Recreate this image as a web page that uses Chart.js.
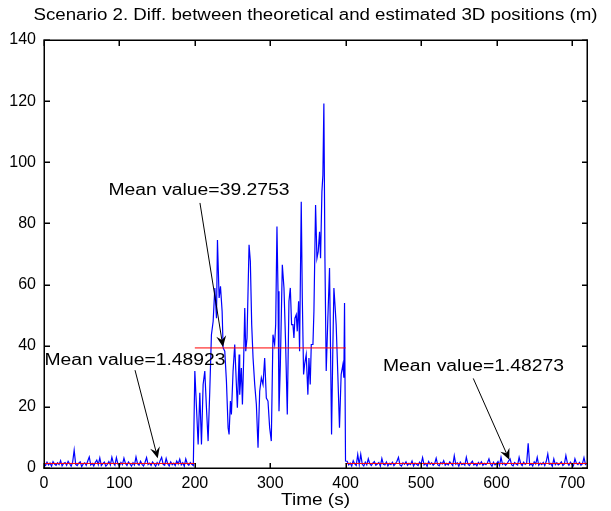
<!DOCTYPE html>
<html>
<head>
<meta charset="utf-8">
<script src="https://cdn.jsdelivr.net/npm/chart.js@4"></script>
</head>
<body style="margin:0">
<canvas id="chart" width="611" height="511"></canvas>
<script>
// Data
const titleText = 'Scenario 2. Diff. between theoretical and estimated 3D positions (m)';
const xTitle = 'Time (s)';
const xTicks = [0, 100, 200, 300, 400, 500, 600, 700];
const yTicks = [0, 20, 40, 60, 80, 100, 120, 140];

// 0-198 s, one sample every 2 s
const sampleStep = 2;
const leftStart = 0;
const leftValues = [
  1.2, 0.8, 1.9, 1.0, 1.6, 0.6, 2.1, 1.3, 0.9, 1.7,
  1.1, 2.4, 0.7, 1.5, 1.8, 0.9, 2.2, 1.4, 0.6, 1.9,
  5.8, 1.2, 0.8, 1.6, 2.0, 0.5, 1.3, 1.7, 0.9, 2.3,
  3.6, 1.0, 1.5, 0.7, 1.8, 2.6, 1.1, 3.3, 0.8, 1.4,
  1.9, 0.6, 1.2, 2.1, 1.0, 3.5, 1.6, 0.9, 3.4, 1.3,
  0.7, 1.8, 1.1, 3.2, 1.5, 0.8, 2.0, 1.3, 0.6, 1.7,
  1.0, 3.6, 1.4, 0.9, 2.2, 1.2, 0.7, 1.9, 3.4, 1.1,
  1.6, 0.8, 2.0, 1.3, 0.6, 1.8, 1.0, 2.4, 3.5, 1.2,
  0.9, 3.1, 1.4, 0.7, 2.0, 1.1, 1.6, 0.8, 2.3, 1.3,
  2.9, 1.0, 1.7, 0.6, 3.0, 1.4, 0.9, 1.8, 1.2, 0.8
];

// 200-400 s, the noisy middle part
const midTimes = [
  200, 204.4, 206.6, 208.8, 211, 213.2, 215.4, 217.6, 219.8, 222,
  224.3, 226.5, 228.7, 230, 232.2, 234, 236.2, 237.5, 239.7, 241.9,
  244.1, 245.4, 247.2, 248.5, 250.7, 252.9, 255.1, 256.4, 258.7, 259.5,
  261.7, 263.1, 264.8, 266.2, 267.5, 269.2, 271.9, 273.6, 275.4, 277.2,
  279.4, 281.6, 283.8, 286, 288.2, 290.4, 292.6, 294.8, 297, 299.2,
  301.4, 303.6, 305.8, 307.2, 308.9, 310.3, 311.6, 313.4, 316, 318.2,
  320.4, 322.6, 324.8, 326.6, 328.3, 330.1, 331.4, 332.7, 334.5, 335.8,
  337.6, 338.9, 341.1, 342.5, 344.2, 345.5, 347.7, 349.9, 351.3, 353,
  354.4, 356.6, 357.9, 360.1, 361.9, 363.6, 365.4, 366.7, 368.5, 369.8,
  371.1, 372.5, 374.2, 376.4, 378.6, 381.3, 383, 384.4, 386.1, 387.4,
  389.6, 391.8, 394, 396.3, 397.6, 398.5, 399.8
];
const midValues = [
  31.7, 7.7, 24.6, 7.7, 27.3, 31.7, 19.7, 8.8, 25.1, 43.6,
  48, 58.9, 49, 74.6, 55.6, 59.4, 51.2, 39.3, 38.2, 28.4,
  13.2, 11, 21.9, 17.5, 31.7, 40.4, 27.3, 19.7, 37.1, 24,
  32.7, 20.8, 36, 52.3, 38.2, 42.5, 73, 67.6, 46.9, 36,
  27.3, 20.8, 6.6, 25.1, 29.5, 27.3, 36, 22.9, 21.9, 13.2,
  8.8, 43.6, 40.4, 46.9, 79, 57.8, 18.6, 33.8, 66.5, 58.9,
  40.4, 17.5, 54.5, 58.9, 46.9, 46.9, 42.5, 49, 50.2, 44.7,
  54.5, 38.2, 87.1, 55.6, 30.6, 33.8, 37.1, 24, 36, 27.3,
  40.4, 40.4, 51.2, 86, 68.6, 70.8, 77.3, 68.6, 90.4, 95.8,
  119.2, 68.6, 31.7, 49, 65.4, 11, 39.3, 58.9, 52.3, 46.9,
  30.6, 13.2, 30.6, 33.8, 29.5, 54, 2.3
];

// 402-720 s, one sample every 2 s
const rightStart = 402;
const rightValues = [
  2.2, 1.0, 1.6, 0.6, 2.4, 1.3, 0.8, 4.4, 1.1, 4.5,
  1.2, 0.7, 1.9, 1.0, 3.0, 1.4, 0.8, 1.6, 2.1, 0.9,
  1.3, 1.8, 0.6, 3.1, 1.2, 1.0, 2.0, 0.7, 1.5, 1.1,
  1.9, 0.8, 1.4, 2.2, 3.5, 1.0, 0.6, 1.7, 1.2, 2.0,
  0.9, 1.5, 1.1, 2.3, 0.7, 1.6, 1.2, 0.8, 1.9, 1.3,
  3.4, 1.0, 1.5, 0.6, 2.1, 1.2, 1.7, 0.9, 1.4, 3.2,
  1.1, 0.7, 1.8, 1.3, 2.4, 0.9, 1.5, 1.0, 2.0, 1.4,
  0.8, 4.0, 1.2, 1.7, 0.6, 1.9, 1.1, 1.5, 0.9, 3.5,
  1.3, 0.8, 1.6, 2.2, 1.0, 1.4, 0.7, 1.8, 1.2, 2.0,
  0.9, 1.5, 1.1, 1.7, 3.0, 1.3, 0.6, 1.9, 1.0, 1.4,
  2.1, 0.8, 3.5, 1.2, 1.6, 0.9, 1.4, 2.3, 3.0, 1.1,
  0.7, 1.8, 1.3, 1.0, 3.5, 1.5, 0.8, 1.9, 1.2, 1.6,
  8.1, 1.0, 1.4, 0.7, 2.0, 1.3, 3.5, 0.9, 1.6, 1.1,
  1.8, 0.8, 2.2, 4.6, 1.2, 1.5, 0.6, 3.0, 1.1, 1.7,
  1.0, 1.4, 2.0, 0.8, 1.3, 4.1, 1.6, 0.9, 1.9, 1.2,
  0.7, 3.0, 1.5, 1.1, 1.8, 0.9, 1.4, 3.4, 1.2, 1.6
];

// mean of each phase
const phaseStarts = [0, 200, 400];
const phaseEnds = [200, 400, 720];
const phaseMeans = [1.48923, 39.2753, 1.48273];

// annotations: label text, label centre, arrow tail and arrow tip (data units)
const noteTexts = ['Mean value=1.48923', 'Mean value=39.2753', 'Mean value=1.48273'];
const noteTextAt = [[120.7, 35.2], [205.5, 90.6], [569.5, 33.3]];
const noteTail = [[120.7, 32.0], [206.8, 86.7], [569.2, 29.3]];
const noteTip = [[150.8, 3.2], [237.3, 39.6], [617, 2.7]];

// build the position series
const positions = [];
leftValues.forEach((v, i) => positions.push({ x: leftStart + i * sampleStep, y: v }));
midTimes.forEach((t, i) => positions.push({ x: t, y: midValues[i] }));
rightValues.forEach((v, i) => positions.push({ x: rightStart + i * sampleStep, y: v }));

const meanSets = phaseMeans.map((m, i) => ({
  data: [{ x: phaseStarts[i], y: m }, { x: phaseEnds[i], y: m }],
  borderColor: '#ff0000',
  borderWidth: 1,
  pointRadius: 0,
  order: 0
}));

const FONT = "'Liberation Sans', Arial, sans-serif";

// draw text squeezed/stretched to a given width
function fitText(ctx, text, cx, cy, w, size) {
  ctx.save();
  ctx.font = size + 'px ' + FONT;
  const m = ctx.measureText(text).width;
  ctx.translate(cx, cy);
  ctx.scale(w / m, 1);
  ctx.textAlign = 'center';
  ctx.textBaseline = 'middle';
  ctx.fillStyle = '#000000';
  ctx.fillText(text, 0, 0);
  ctx.restore();
}

function arrow(ctx, ax, ay, bx, by) {
  const a = Math.atan2(by - ay, bx - ax);
  const len = 11, half = 5, notch = 7;
  const hx = bx - len * Math.cos(a), hy = by - len * Math.sin(a);
  const nx = bx - notch * Math.cos(a), ny = by - notch * Math.sin(a);
  const ox = -Math.sin(a) * half, oy = Math.cos(a) * half;
  ctx.save();
  ctx.strokeStyle = '#000000';
  ctx.fillStyle = '#000000';
  ctx.lineWidth = 1;
  ctx.beginPath();
  ctx.moveTo(ax, ay);
  ctx.lineTo(nx, ny);
  ctx.stroke();
  ctx.beginPath();
  ctx.moveTo(bx, by);
  ctx.lineTo(hx + ox, hy + oy);
  ctx.lineTo(nx, ny);
  ctx.lineTo(hx - ox, hy - oy);
  ctx.closePath();
  ctx.fill();
  ctx.restore();
}

// box, inward ticks, notes and titles
const framePlugin = {
  id: 'frame',
  afterDraw(chart) {
    const ctx = chart.ctx;
    const xs = chart.scales.x, ys = chart.scales.y;
    const l = Math.round(xs.getPixelForValue(0));
    const r = Math.round(xs.getPixelForValue(720));
    const b = Math.round(ys.getPixelForValue(0));
    const t = Math.round(ys.getPixelForValue(140));
    ctx.save();
    ctx.fillStyle = '#000000';
    // filled bars 1.5px wide so they survive any resampling
    ctx.fillRect(l - 0.5, t - 0.5, r - l + 1.5, 1.5);
    ctx.fillRect(l - 0.5, b - 0.5, r - l + 1.5, 1.5);
    ctx.fillRect(l - 0.5, t - 0.5, 1.5, b - t + 1.5);
    ctx.fillRect(r - 0.5, t - 0.5, 1.5, b - t + 1.5);
    xTicks.forEach(v => {
      const px = Math.round(xs.getPixelForValue(v));
      ctx.fillRect(px - 0.5, b - 5, 1.5, 5);
      ctx.fillRect(px - 0.5, t + 1, 1.5, 5);
    });
    yTicks.forEach(v => {
      const py = Math.round(ys.getPixelForValue(v));
      ctx.fillRect(l + 1, py - 0.5, 5, 1.5);
      ctx.fillRect(r - 5, py - 0.5, 5, 1.5);
    });
    ctx.restore();

    noteTexts.forEach((txt, i) => {
      arrow(ctx,
        xs.getPixelForValue(noteTail[i][0]), ys.getPixelForValue(noteTail[i][1]),
        xs.getPixelForValue(noteTip[i][0]), ys.getPixelForValue(noteTip[i][1]));
      fitText(ctx, txt, xs.getPixelForValue(noteTextAt[i][0]),
        ys.getPixelForValue(noteTextAt[i][1]), 181, 16);
    });
    const mid = (l + r) / 2;
    fitText(ctx, titleText, mid, 15.5, 564, 16);
    fitText(ctx, xTitle, mid, 501, 69, 16);
  }
};

new Chart(document.getElementById('chart'), {
  type: 'line',
  data: {
    datasets: [
      ...meanSets,
      {
        data: positions,
        borderColor: '#0000ff',
        borderWidth: 1.2,
        pointRadius: 0,
        tension: 0,
        order: 1
      }
    ]
  },
  options: {
    responsive: false,
    animation: false,
    devicePixelRatio: 1,
    layout: { padding: { top: 40, right: 24, left: 0, bottom: 0 } },
    plugins: { legend: { display: false }, tooltip: { enabled: false }, title: { display: false } },
    scales: {
      x: {
        type: 'linear',
        min: 0,
        max: 720,
        afterBuildTicks: s => { s.ticks = xTicks.map(v => ({ value: v })); },
        afterFit: s => { s.height = 43; },
        grid: { display: false, drawTicks: false },
        border: { display: false },
        ticks: { color: '#000', padding: 6, maxRotation: 0, font: { family: FONT, size: 16 } }
      },
      y: {
        min: 0,
        max: 140,
        afterBuildTicks: s => { s.ticks = yTicks.map(v => ({ value: v })); },
        afterFit: s => { s.width = 44; },
        grid: { display: false, drawTicks: false },
        border: { display: false },
        ticks: { color: '#000', padding: 8, font: { family: FONT, size: 16 } }
      }
    }
  },
  plugins: [framePlugin]
});
</script>
</body>
</html>
